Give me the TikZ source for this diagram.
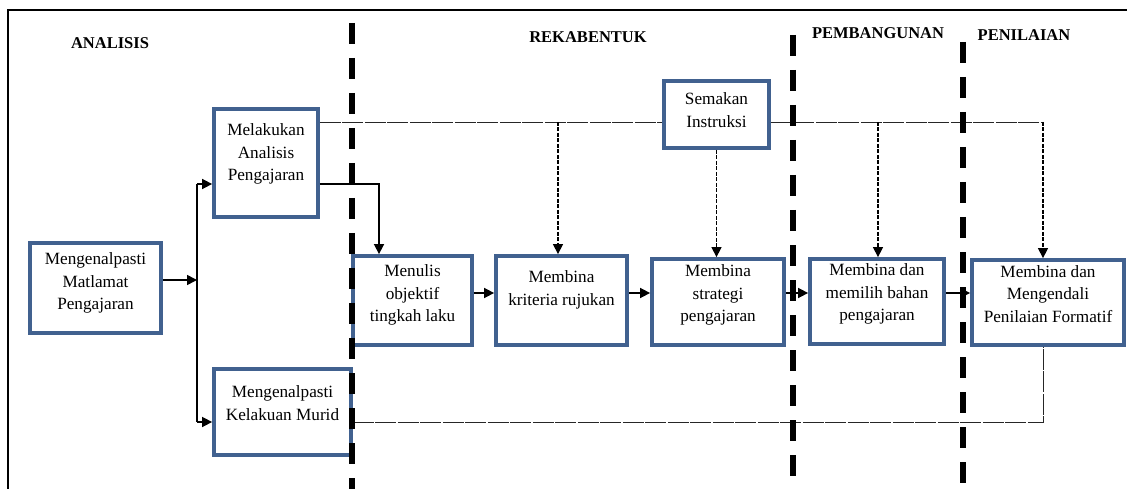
\documentclass[tikz,border=0pt]{standalone}
\usepackage{fontspec}
\setmainfont{Liberation Serif}
\usetikzlibrary{arrows.meta}
\definecolor{boxblue}{HTML}{41618F}
\tikzset{
  box/.style={draw=boxblue, line width=3.8pt, fill=white, inner sep=0pt},
  txt/.style={align=center, inner sep=0pt, font=\fontsize{17.2}{22.5}\selectfont},
  head/.style={inner sep=0pt, font=\fontsize{16.5}{20}\selectfont\bfseries},
  arr/.style={line width=1.6pt, -{Triangle[length=10pt,width=10pt]}},
  thinline/.style={line width=0.9pt, draw=black!85, dash pattern=on 21pt off 1.5pt},
  dotarr/.style={line width=1.4pt, dash pattern=on 4pt off 1.5pt, -{Triangle[length=10pt,width=10pt]}},
  phase/.style={line width=6pt, dash pattern=on 21pt off 14pt},
  frame/.style={line width=1.5pt}
}
\begin{document}
\begin{tikzpicture}[x=1pt,y=-1pt]
\useasboundingbox (0,0) rectangle (1127,489);
% frame
\draw[frame] (8,489) -- (8,10) -- (1127,10);
% headings
\node[head] (hA) at (110,43) {ANALISIS};
\node[head] (hR) at (588,37) {REKABENTUK};
\node[head] (hP) at (878,33) {PEMBANGUNAN};
\node[head] (hN) at (1024,35) {PENILAIAN};
% boxes
\node[box, minimum width=131pt, minimum height=90pt] (mat) at (95.5,288) {};
\node[box, minimum width=104pt, minimum height=108pt] (mel) at (266,163) {};
\node[box, minimum width=137pt, minimum height=86pt] (kel) at (282.5,412) {};
\node[box, minimum width=119pt, minimum height=89pt] (men) at (412.5,300.5) {};
\node[box, minimum width=131pt, minimum height=89pt] (kri) at (561.5,300.5) {};
\node[box, minimum width=132pt, minimum height=86pt] (str) at (718,302) {};
\node[box, minimum width=134pt, minimum height=85pt] (bah) at (877,301.5) {};
\node[box, minimum width=152pt, minimum height=85pt] (pen) at (1048,302.5) {};
\node[box, minimum width=105pt, minimum height=67pt] (sem) at (716.5,114.5) {};
% texts
\node[txt] (tmat) at (95.5,283) {Mengenalpasti\\Matlamat\\Pengajaran};
\node[txt] (tmel) at (266,154) {Melakukan\\Analisis\\Pengajaran};
\node[txt] (tkel) at (282.5,403) {Mengenalpasti\\Kelakuan Murid};
\node[txt] (tmen) at (412.5,295) {Menulis\\objektif\\tingkah laku};
\node[txt] (tkri) at (561.5,290) {Membina\\kriteria rujukan};
\node[txt] (tstr) at (718,295) {Membina\\strategi\\pengajaran};
\node[txt] (tbah) at (877,294) {Membina dan\\memilih bahan\\pengajaran};
\node[txt] (tpen) at (1048,294) {Membina dan\\Mengendali\\Penilaian Formatif};
\node[txt] (tsem) at (716.5,110) {Semakan\\Instruksi};
% coordinates
\coordinate (j) at (197,280);
\coordinate (ja) at (197,184);
\coordinate (jb) at (197,422);
\coordinate (m1) at (379,184);
\coordinate (row) at (0,293);
\coordinate (top) at (0,122);
\coordinate (d1) at (558,122);
\coordinate (d2) at (878,122);
\coordinate (d3) at (1043,122);
\coordinate (b3) at (1043,422);
% connectors
\draw[arr] (mat.east |- j) -- (j);
\draw[line width=1.6pt] (ja) -- (jb);
\draw[arr] (ja) -- (mel.west |- ja);
\draw[arr] (jb) -- (kel.west |- jb);
\draw[arr] (mel.east |- m1) -| (men.north -| m1);
\draw[arr] (men.east |- row) -- (kri.west |- row);
\draw[arr] (kri.east |- row) -- (str.west |- row);
\draw[arr] (str.east |- row) -- (bah.west |- row);
\draw[arr] (bah.east |- row) -- (pen.west |- row);
\draw[thinline] (mel.east |- top) -- (sem.west |- top);
\draw[thinline] (sem.east |- top) -- (d3);
\draw[dotarr] (d1) -- (kri.north -| d1);
\draw[dotarr] (sem.south) -- (str.north -| sem.south);
\draw[dotarr] (d2) -- (bah.north -| d2);
\draw[dotarr] (d3) -- (pen.north -| d3);
\draw[thinline] (kel.east |- jb) -- (b3) -- (pen.south -| b3);
% phase separators
\draw[phase] (352,23) -- (352,489);
\draw[phase] (793,35) -- (793,489);
\draw[phase] (963,42) -- (963,489);
\end{tikzpicture}
\end{document}
